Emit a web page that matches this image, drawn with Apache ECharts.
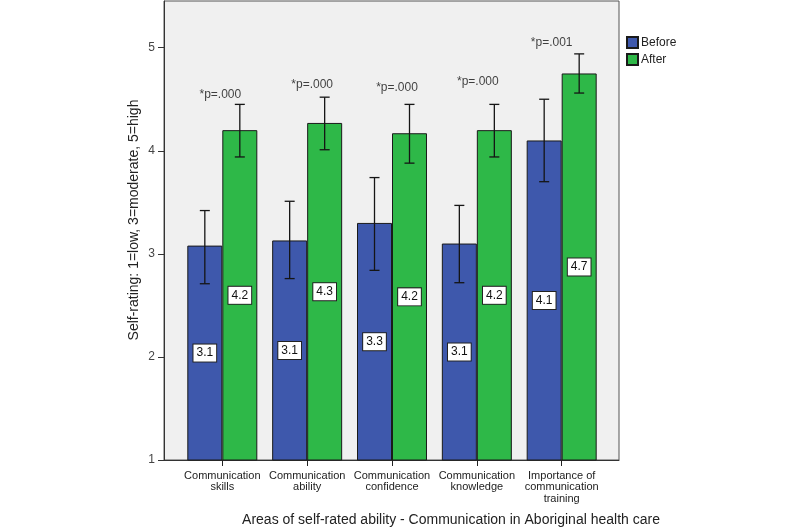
<!DOCTYPE html>
<html>
<head>
<meta charset="utf-8">
<script src="https://cdn.jsdelivr.net/npm/echarts@6/dist/echarts.min.js"></script>
<style>
html,body{margin:0;padding:0;background:#fff;}
#chart{width:800px;height:530px;}
</style>
</head>
<body>
<div id="chart"></div>
<script>
// ---- data ----
var categories = ['Communication\nskills', 'Communication\nability', 'Communication\nconfidence', 'Communication\nknowledge', 'Importance of\ncommunication\ntraining'];
var beforeMeans = [3.08, 3.13, 3.30, 3.10, 4.10];
var afterMeans  = [4.20, 4.27, 4.17, 4.20, 4.75];
var beforeLow   = [2.71, 2.76, 2.84, 2.72, 3.70];
var beforeHigh  = [3.42, 3.51, 3.74, 3.47, 4.50];
var afterLow    = [3.94, 4.01, 3.88, 3.94, 4.56];
var afterHigh   = [4.45, 4.52, 4.45, 4.45, 4.94];
var beforeLabels = ['3.1', '3.1', '3.3', '3.1', '4.1'];
var afterLabels  = ['4.2', '4.3', '4.2', '4.2', '4.7'];
var pLabels = ['*p=.000', '*p=.000', '*p=.000', '*p=.000', '*p=.001'];
var pLabelY = [4.54, 4.64, 4.61, 4.67, 5.05];
var yTicks = [1, 2, 3, 4, 5];

// ---- styles ----
var FONT = 'Liberation Sans, Arial, sans-serif';
var BLUE = '#3e58ac';
var GREEN = '#2eb848';
var YMIN = 1, YMAX = 5.453;
var GAP = 0.175;
var pLabelDx = [-2, 5, 5, 1, -10];

function errSeries(name, low, high, side) {
  return {
    type: 'custom',
    xAxisIndex: 1, yAxisIndex: 1,
    z: 5,
    silent: true,
    data: low.map(function (l, i) { return [i, l, high[i]]; }),
    renderItem: function (params, api) {
      var band = api.size([1, 0])[0];
      var bw = band * (1 - GAP) / 2;
      var pLo = api.coord([api.value(0), api.value(1)]);
      var pHi = api.coord([api.value(0), api.value(2)]);
      var x = pLo[0] + side * bw / 2;
      var cap = 5;
      var st = { stroke: '#151515', lineWidth: 1.3 };
      return {
        type: 'group',
        children: [
          { type: 'line', shape: { x1: x, y1: pLo[1], x2: x, y2: pHi[1] }, style: st },
          { type: 'line', shape: { x1: x - cap, y1: pLo[1], x2: x + cap, y2: pLo[1] }, style: st },
          { type: 'line', shape: { x1: x - cap, y1: pHi[1], x2: x + cap, y2: pHi[1] }, style: st }
        ]
      };
    }
  };
}

function barLabel(labels) {
  return {
    show: true,
    position: 'inside',
    formatter: function (p) { return labels[p.dataIndex]; },
    color: '#111',
    fontFamily: FONT,
    fontSize: 12,
    backgroundColor: '#fff',
    borderColor: '#222',
    borderWidth: 1,
    padding: [3, 3, 2, 3]
  };
}

var chart = echarts.init(document.getElementById('chart'), null, { renderer: 'canvas' });

var option = {
  animation: false,
  backgroundColor: '#fff',
  textStyle: { fontFamily: FONT },
  grid: [
    { left: 164, top: 1, width: 455, height: 459, show: true, backgroundColor: '#f0f0f0', borderColor: '#555', borderWidth: 1 },
    { left: 179.9, top: 1, width: 424.2, height: 459 }
  ],
  legend: {
    orient: 'vertical',
    left: 621, top: 31,
    itemWidth: 11, itemHeight: 11, itemGap: 4,
    icon: 'rect',
    data: ['Before', 'After'],
    textStyle: { fontFamily: FONT, fontSize: 12, color: '#222', padding: [0, 0, 0, -2] }
  },
  xAxis: [
    { gridIndex: 0, type: 'value', min: 0, max: 1, show: true,
      axisLine: { show: true, lineStyle: { color: '#333', width: 1 } },
      axisTick: { show: false }, axisLabel: { show: false }, splitLine: { show: false } },
    { gridIndex: 1, type: 'category', data: categories,
      axisLine: { show: false },
      axisTick: { show: true, alignWithLabel: true, length: 6, lineStyle: { color: '#222' } },
      axisLabel: { fontFamily: FONT, fontSize: 11, color: '#222', lineHeight: 11.5, margin: 10, interval: 0 },
      splitLine: { show: false } }
  ],
  yAxis: [
    { gridIndex: 0, type: 'value', min: YMIN, max: YMAX, interval: 1,
      axisLine: { show: true, lineStyle: { color: '#333', width: 1 } },
      axisTick: { show: true, length: 6, lineStyle: { color: '#333' }, customValues: yTicks },
      axisLabel: { fontFamily: FONT, fontSize: 12, color: '#444', margin: 9, customValues: yTicks },
      splitLine: { show: false } },
    { gridIndex: 1, type: 'value', min: YMIN, max: YMAX, show: false, splitLine: { show: false } }
  ],
  series: [
    { name: 'Before', type: 'bar', xAxisIndex: 1, yAxisIndex: 1, data: beforeMeans,
      barGap: '0%', barCategoryGap: (GAP * 100) + '%',
      itemStyle: { color: BLUE, borderColor: '#1a1a1a', borderWidth: 1 },
      label: barLabel(beforeLabels) },
    { name: 'After', type: 'bar', xAxisIndex: 1, yAxisIndex: 1, data: afterMeans,
      barGap: '0%', barCategoryGap: (GAP * 100) + '%',
      itemStyle: { color: GREEN, borderColor: '#1a1a1a', borderWidth: 1 },
      label: barLabel(afterLabels) },
    errSeries('BeforeErr', beforeLow, beforeHigh, -1),
    errSeries('AfterErr', afterLow, afterHigh, 1),
    { type: 'scatter', xAxisIndex: 1, yAxisIndex: 1, symbolSize: 0, silent: true, z: 6,
      data: pLabelY.map(function (v, i) {
        return { value: [i, v], label: { offset: [pLabelDx[i], 0] } };
      }),
      label: { show: true, position: 'inside',
        formatter: function (p) { return pLabels[p.dataIndex]; },
        fontFamily: FONT, fontSize: 12, color: '#111' } }
  ],
  graphic: [
    { type: 'text', x: 134, y: 220, rotation: Math.PI / 2,
      style: { text: 'Self-rating: 1=low, 3=moderate, 5=high', fontFamily: FONT, fontSize: 14, fill: '#222', align: 'center', verticalAlign: 'middle' } },
    { type: 'text', x: 451, y: 520,
      style: { text: 'Areas of self-rated ability - Communication in Aboriginal health care', fontFamily: FONT, fontSize: 14, fill: '#222', align: 'center', verticalAlign: 'middle' } }
  ]
};
chart.setOption(option);
</script>
</body>
</html>
